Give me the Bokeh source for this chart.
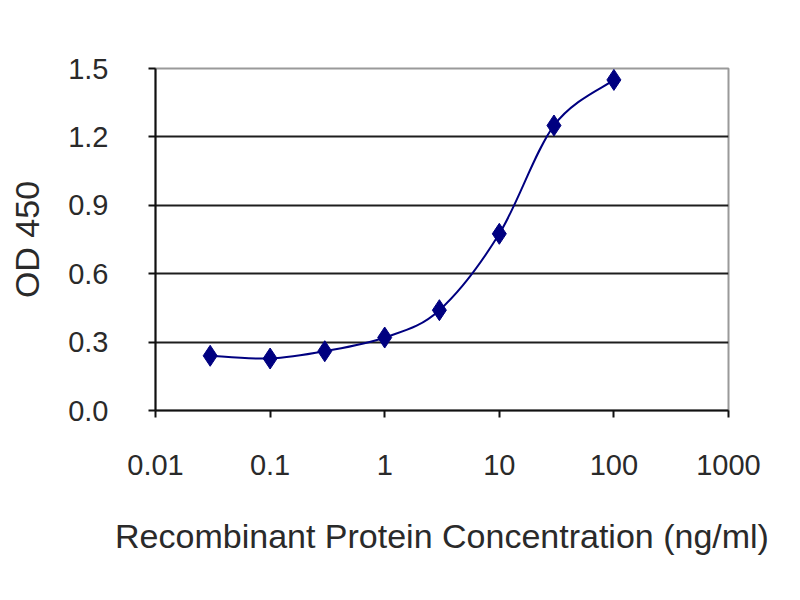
import numpy as np
from bokeh.plotting import figure
from bokeh.models import FixedTicker, Range1d, NumeralTickFormatter
from bokeh.embed import file_html
from bokeh.resources import INLINE

# data
conc = [0.03, 0.1, 0.3, 1, 3, 10, 30, 100]
od450 = [0.24, 0.228, 0.26, 0.32, 0.44, 0.775, 1.25, 1.45]
x_ticks = [0.01, 0.1, 1, 10, 100, 1000]
x_tick_labels = ["0.01", "0.1", "1", "10", "100", "1000"]
y_ticks = [0.0, 0.3, 0.6, 0.9, 1.2, 1.5]
x_title = "Recombinant Protein Concentration (ng/ml)"
y_title = "OD 450"

FONT = "Liberation Sans"
TXT = "#2a2a2a"
NAVY = "#000080"

p = figure(width=784, height=584, x_axis_type="log", output_backend="svg",
           toolbar_location=None, x_range=Range1d(0.01, 1000), y_range=Range1d(0, 1.5),
           min_border_left=155, min_border_right=56, min_border_top=68, min_border_bottom=174)
p.background_fill_color = "white"
p.border_fill_color = "white"
p.outline_line_color = "#9a9a9a"
p.outline_line_width = 2

# grid
p.xgrid.visible = False
p.ygrid.ticker = FixedTicker(ticks=[0.3, 0.6, 0.9, 1.2])
p.ygrid.grid_line_color = "#1e1e1e"
p.ygrid.grid_line_width = 2

# axes
p.xaxis.ticker = FixedTicker(ticks=x_ticks)
p.xaxis.major_label_overrides = {t: s for t, s in zip(x_ticks, x_tick_labels)}
p.yaxis.ticker = FixedTicker(ticks=y_ticks)
p.yaxis.formatter = NumeralTickFormatter(format="0.0")
for ax in (p.xaxis[0], p.yaxis[0]):
    ax.axis_line_color = "#111111"
    ax.axis_line_width = 2
    ax.major_tick_line_color = "#111111"
    ax.major_tick_line_width = 2
    ax.major_tick_out = 7
    ax.major_tick_in = 0
    ax.minor_tick_line_color = None
    ax.major_label_text_font = FONT
    ax.major_label_text_font_size = "29px"
    ax.major_label_text_color = TXT
    ax.axis_label_text_font = FONT
    ax.axis_label_text_font_size = "34px"
    ax.axis_label_text_font_style = "normal"
    ax.axis_label_text_color = TXT
p.xaxis.axis_label = x_title
p.yaxis.axis_label = y_title
p.xaxis.major_label_standoff = 37
p.xaxis.axis_label_standoff = 39
p.yaxis.major_label_standoff = 40
p.yaxis.axis_label_standoff = 19

# smooth line (Excel-style) via bezier segments through data points
lx = np.log10(np.array(conc, dtype=float))
ly = np.array(od450, dtype=float)
n = len(lx)
x0s, y0s, x1s, y1s, cx0, cy0, cx1, cy1 = ([] for _ in range(8))
for i in range(n - 1):
    im = max(i - 1, 0)
    ip2 = min(i + 2, n - 1)
    c1x = lx[i] + (lx[i + 1] - lx[im]) / 6
    c1y = ly[i] + (ly[i + 1] - ly[im]) / 6
    c2x = lx[i + 1] - (lx[ip2] - lx[i]) / 6
    c2y = ly[i + 1] - (ly[ip2] - ly[i]) / 6
    x0s.append(conc[i]); y0s.append(od450[i])
    x1s.append(conc[i + 1]); y1s.append(od450[i + 1])
    cx0.append(10 ** c1x); cy0.append(c1y)
    cx1.append(10 ** c2x); cy1.append(c2y)
p.bezier(x0=x0s, y0=y0s, x1=x1s, y1=y1s, cx0=cx0, cy0=cy0, cx1=cx1, cy1=cy1,
         line_color=NAVY, line_width=2)

p.scatter(conc, od450, marker="diamond", size=21, fill_color=NAVY, line_color=NAVY)

open("out.html", "w").write(file_html(p, INLINE))
